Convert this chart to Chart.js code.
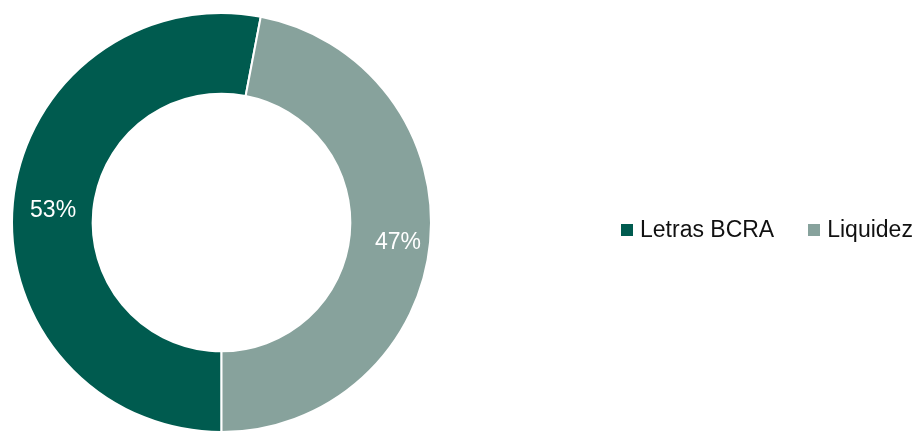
<!DOCTYPE html>
<html>
<head>
<meta charset="utf-8">
<script src="https://cdn.jsdelivr.net/npm/chart.js@4"></script>
<style>
  html, body { margin: 0; padding: 0; background: #fff; }
  #wrap { position: relative; width: 918px; height: 433px; }
  #legend { position: absolute; left: 621px; top: 216px; display: flex; white-space: nowrap; font-family: "Liberation Sans", Arial, sans-serif; font-size: 23px; color: #111; }
  #legend .item { display: flex; align-items: center; margin-right: 34px; }
  #legend .box { width: 12px; height: 12px; margin-right: 7px; flex: none; }
</style>
</head>
<body>
<div id="wrap">
  <canvas id="donut" width="918" height="433"></canvas>
  <div id="legend"></div>
</div>
<script>
const labels = ["Letras BCRA", "Liquidez"];
const shares = [53, 47];
const colors = ["#005B4F", "#87A29C"];

// percent labels, drawn inside each slice
const valueLabels = {
  id: "valueLabels",
  afterDatasetsDraw(chart) {
    const ctx = chart.ctx;
    const meta = chart.getDatasetMeta(0);
    ctx.save();
    ctx.fillStyle = "#ffffff";
    ctx.font = "23px 'Liberation Sans', Arial, sans-serif";
    ctx.textAlign = "center";
    ctx.textBaseline = "middle";
    meta.data.forEach((arc, i) => {
      const p = arc.tooltipPosition();
      ctx.fillText(shares[i] + "%", p.x + (i === 1 ? 8 : 0), p.y + 4);
    });
    ctx.restore();
  }
};

function buildLegend() {
  const el = document.getElementById("legend");
  labels.forEach((name, i) => {
    const item = document.createElement("div");
    item.className = "item";
    const box = document.createElement("span");
    box.className = "box";
    box.style.background = colors[i];
    item.appendChild(box);
    item.appendChild(document.createTextNode(name));
    el.appendChild(item);
  });
}

new Chart(document.getElementById("donut"), {
  type: "doughnut",
  data: {
    labels: labels,
    datasets: [{
      data: shares,
      backgroundColor: colors,
      borderColor: "#ffffff",
      borderWidth: 2
    }]
  },
  options: {
    responsive: false,
    animation: false,
    rotation: 180,
    cutout: "61.5%",
    layout: { padding: { left: 11, right: 486, top: 12, bottom: 0 } },
    plugins: { legend: { display: false }, tooltip: { enabled: false } }
  },
  plugins: [valueLabels]
});

buildLegend();
</script>
</body>
</html>
